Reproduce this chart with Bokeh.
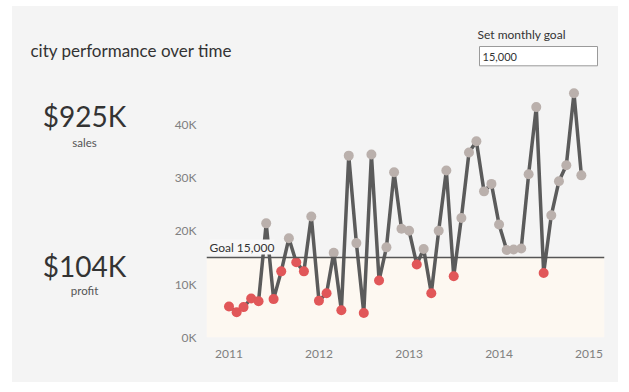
import pandas as pd
from bokeh.plotting import figure
from bokeh.layouts import column, row
from bokeh.models import (ColumnDataSource, Range1d, FixedTicker, DatetimeTickFormatter,
                          BoxAnnotation, Span, Label, Spacer)
from bokeh.core.properties import value
from bokeh.embed import file_html
from bokeh.resources import INLINE

# ---------------- data ----------------
months = pd.date_range("2011-01-01", "2014-12-01", freq="MS")
sales = [5800, 4750, 5700, 7300, 6800, 21400, 7200, 12400, 18600, 14100, 12400, 22700,
         6900, 8300, 15900, 5100, 34100, 17700, 4600, 34300, 10700, 16900, 31000, 20400,
         20000, 13700, 16600, 8300, 20000, 31300, 11500, 22400, 34700, 36800, 27400, 28800,
         21200, 16400, 16500, 16700, 30600, 43200, 12100, 22900, 29300, 32300, 45800, 30400]
goal = 15000
year_ticks = ["2011-01-01", "2012-01-01", "2013-01-01", "2014-01-01", "2015-01-01"]
y_ticks = [0, 10000, 20000, 30000, 40000]
y_tick_labels = ["0K", "10K", "20K", "30K", "40K"]
kpi_values = ["$925K", "$104K"]
kpi_names = ["sales", "profit"]
title_text = "city performance over time"
goal_prompt = "Set monthly goal"
goal_input = "15,000"

FONT = "Lato"
BG = "#f4f4f4"
RED = "#e15759"
GREY_PT = "#bab0ac"

# page-pixel layout of the panels
PANEL_L, PANEL_T, PANEL_R, PANEL_B = 12, 6, 618, 382
HEAD_B = 78
KPI_R = 160
FR_L, FR_R, FR_T, FR_B = 206, 604, 85, 337   # chart frame in page px

def ms(d):
    return pd.Timestamp(d).value / 1e6

def blank(x_lo, x_hi, y_top, y_bot, w, h, **kw):
    # figure whose data coordinates are page pixels (y downwards)
    f = figure(width=w, height=h, x_range=Range1d(x_lo, x_hi), y_range=Range1d(y_bot, y_top),
               output_backend="svg", toolbar_location=None,
               x_axis_location=None, y_axis_location=None, **kw)
    f.background_fill_color = BG
    f.border_fill_color = BG
    f.outline_line_color = None
    f.xgrid.visible = False
    f.ygrid.visible = False
    return f

# ---------------- header ----------------
head = blank(PANEL_L, PANEL_R, PANEL_T, HEAD_B, PANEL_R - PANEL_L, HEAD_B - PANEL_T, min_border=0)
head.text(x=[30], y=[50], text=[title_text], text_font=value(FONT), text_font_size="17px",
          text_color="#333333", text_baseline="middle", text_align="left")
head.text(x=[477], y=[34], text=[goal_prompt], text_font=value(FONT), text_font_size="12px",
          text_color="#333333", text_baseline="middle", text_align="left")
head.quad(left=[479], right=[597], top=[46], bottom=[65.3], fill_color="white",
          line_color="#9a9a9a", line_width=1)
head.text(x=[482], y=[56], text=[goal_input], text_font=value(FONT), text_font_size="11px",
          text_color="#333333", text_baseline="middle", text_align="left")

# ---------------- KPIs (frame aligned with chart frame) ----------------
kpi = blank(PANEL_L, KPI_R, FR_T, FR_B, KPI_R - PANEL_L, PANEL_B - HEAD_B,
            min_border_left=0, min_border_right=0,
            min_border_top=FR_T - HEAD_B, min_border_bottom=PANEL_B - FR_B)
kpi.text(x=[84, 84], y=[115, 265], text=kpi_values, text_font=value(FONT),
         text_font_size="28px", text_color="#333333", text_baseline="middle", text_align="center")
kpi.text(x=[84, 84], y=[142, 290], text=kpi_names, text_font=value(FONT),
         text_font_size="11.5px", text_color="#555555", text_baseline="middle", text_align="center")

# ---------------- chart ----------------
colors = [RED if v < goal else GREY_PT for v in sales]
src = ColumnDataSource(dict(x=months, y=sales, c=colors))

x0 = ms("2011-01-01") - 91.3 * 86400000
x1 = ms("2015-01-01") + 62.9 * 86400000
Y1 = 47250

def xd(px):
    return x0 + (px - FR_L) / (FR_R - FR_L) * (x1 - x0)

def yd(py):
    return (FR_B - py) / (FR_B - FR_T) * Y1

p = figure(width=PANEL_R - KPI_R, height=PANEL_B - HEAD_B, x_axis_type="datetime",
           output_backend="svg", toolbar_location=None,
           x_range=Range1d(x0, x1), y_range=Range1d(0, Y1),
           min_border_left=FR_L - KPI_R, min_border_right=PANEL_R - FR_R,
           min_border_top=FR_T - HEAD_B, min_border_bottom=PANEL_B - FR_B)
p.background_fill_color = BG
p.border_fill_color = BG
p.outline_line_color = None
p.xgrid.visible = False
p.ygrid.visible = False

p.add_layout(BoxAnnotation(bottom=0, top=goal, fill_color="#fdf8f1", fill_alpha=1.0,
                           line_color=None, level="underlay"))
p.add_layout(Span(location=goal, dimension="width", line_color="#555555", line_width=1.6))

p.line("x", "y", source=src, line_color="#5b5b5b", line_width=3.5)
p.scatter("x", "y", source=src, size=10, fill_color="c", line_color="c", line_width=0)

xa = p.xaxis[0]
xa.ticker = FixedTicker(ticks=[ms(d) for d in year_ticks])
xa.formatter = DatetimeTickFormatter(days="%Y", months="%Y", years="%Y", hours="%Y",
                                     hourmin="%Y", minutes="%Y", minsec="%Y", seconds="%Y",
                                     milliseconds="%Y", microseconds="%Y")
ya = p.yaxis[0]
ya.ticker = FixedTicker(ticks=y_ticks)
ya.major_label_overrides = {t: l for t, l in zip(y_ticks, y_tick_labels)}
for ax in (xa, ya):
    ax.axis_line_color = None
    ax.major_tick_line_color = None
    ax.minor_tick_line_color = None
    ax.major_label_text_font = FONT
    ax.major_label_text_font_size = "12px"
    ax.major_label_text_color = "#808080"
xa.major_label_standoff = 6
ya.major_label_standoff = 4

p.add_layout(Label(x=xd(209), y=yd(246.5), text="Goal 15,000", text_font=FONT,
                   text_font_size="12px", text_color="#333333", text_align="left",
                   text_baseline="middle", background_fill_color="#f8f8f8"))

inner_row = row(kpi, p, styles={"background-color": BG})
panel = column(head, inner_row, styles={"background-color": BG})
layout = column(Spacer(height=PANEL_T), row(Spacer(width=PANEL_L), panel))

open("out.html", "w").write(file_html(layout, INLINE))
